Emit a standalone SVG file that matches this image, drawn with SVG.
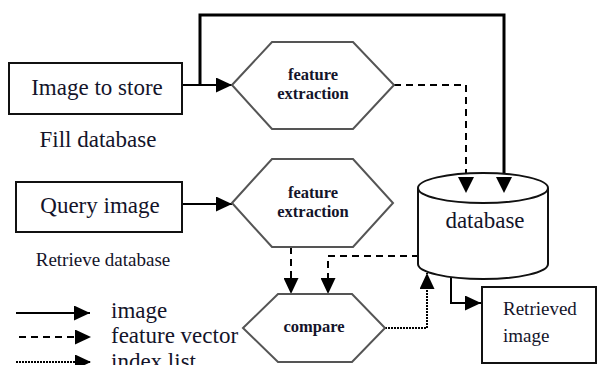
<svg xmlns="http://www.w3.org/2000/svg" width="598" height="365" viewBox="0 0 598 365">
  <style>
    .box { fill: #fff; stroke: #111; stroke-width: 2; }
    .hex { fill: #fff; stroke: #555; stroke-width: 2; }
    .cyl { fill: #fff; stroke: #111; stroke-width: 2; }
    .t { font-family: "Liberation Serif", Tinos, "Noto Serif", "DejaVu Serif", serif; fill: #14142a; }
    .big { font-size: 23px; }
    .mid { font-size: 19px; }
    .bold { font-size: 16.5px; font-weight: bold; }
    .solid { fill: none; stroke: #000; stroke-width: 2; }
    .thick { fill: none; stroke: #000; stroke-width: 3; }
    .dash { fill: none; stroke: #000; stroke-width: 2; stroke-dasharray: 7 5; }
    .dot { fill: none; stroke: #000; stroke-width: 2; stroke-dasharray: 2 1; }
  </style>
  <defs>
    <marker id="arrow" markerUnits="userSpaceOnUse" markerWidth="17" markerHeight="15" refX="16" refY="7.5" orient="auto">
      <path d="M0,0 L16,7.5 L0,15 Z" fill="#000"/>
    </marker>
  </defs>

  <rect width="598" height="365" fill="#fff"/>

  <!-- connectors -->
  <g id="connectors">
    <!-- image to store -> feature extraction, and loop to database -->
    <path class="solid" d="M182,85 H232" marker-end="url(#arrow)"/>
    <path class="thick" d="M200,85 V15 H504 V193" marker-end="url(#arrow)"/>
    <!-- feature extraction -> database -->
    <path class="dash" d="M394,85 H466 V193" marker-end="url(#arrow)"/>
    <!-- query image -> feature extraction -->
    <path class="solid" d="M182,204 H232" marker-end="url(#arrow)"/>
    <!-- feature extraction -> compare -->
    <path class="dash" d="M291,247 V294" marker-end="url(#arrow)"/>
    <!-- database -> compare -->
    <path class="dash" d="M419,256 H328 V294" marker-end="url(#arrow)"/>
    <!-- compare -> database -->
    <path class="dot" d="M385,328 H427 V273" marker-end="url(#arrow)"/>
    <!-- database -> retrieved image -->
    <path class="solid" d="M451,277 V303 H481" marker-end="url(#arrow)"/>
  </g>

  <!-- legend -->
  <g id="legend">
    <path class="solid" d="M16,313 H90" marker-end="url(#arrow)"/>
    <path class="dash" d="M19,337 H91" marker-end="url(#arrow)"/>
    <path class="dot" d="M16,362 H91" marker-end="url(#arrow)"/>
    <text class="t big" x="111" y="318">image</text>
    <text class="t big" x="111" y="343">feature vector</text>
    <text class="t big" x="111" y="369">index list</text>
  </g>

  <g id="image-to-store">
    <rect class="box" x="9" y="63" width="173" height="51"/>
    <text class="t big" x="97" y="95" text-anchor="middle">Image to store</text>
  </g>
  <text class="t big" x="98" y="147" text-anchor="middle">Fill database</text>

  <g id="feature-extraction-1">
    <polygon class="hex" points="232,85 272,42 353,42 394,85 353,129 272,129"/>
    <text class="t bold" x="313" y="80" text-anchor="middle">feature</text>
    <text class="t bold" x="313" y="99" text-anchor="middle">extraction</text>
  </g>

  <g id="query-image">
    <rect class="box" x="16" y="182" width="166" height="50"/>
    <text class="t big" x="100" y="213" text-anchor="middle">Query image</text>
  </g>
  <text class="t mid" x="103" y="266" text-anchor="middle">Retrieve database</text>

  <g id="feature-extraction-2">
    <polygon class="hex" points="232,203 272,159 353,159 393,203 353,247 272,247"/>
    <text class="t bold" x="313" y="198" text-anchor="middle">feature</text>
    <text class="t bold" x="313" y="217" text-anchor="middle">extraction</text>
  </g>

  <g id="compare">
    <polygon class="hex" points="243,328 278,294 352,294 385,328 352,362 278,362"/>
    <text class="t bold" x="314" y="332" text-anchor="middle">compare</text>
  </g>

  <g id="database">
    <path class="cyl" d="M418,188 V264 A65,15 0 0 0 548,264 V188"/>
    <ellipse class="cyl" cx="483" cy="188" rx="65" ry="15"/>
    <text class="t big" x="485" y="228" text-anchor="middle">database</text>
  </g>
  <!-- arrowheads drawn on top of the cylinder lid -->
  <path d="M458,177 L466,193 L474,177 Z" fill="#000"/>
  <path d="M496,177 L504,193 L512,177 Z" fill="#000"/>

  <g id="retrieved-image">
    <rect class="box" x="482" y="287" width="114" height="76"/>
    <text class="t mid" x="503" y="315">Retrieved</text>
    <text class="t mid" x="503" y="342">image</text>
  </g>
</svg>
